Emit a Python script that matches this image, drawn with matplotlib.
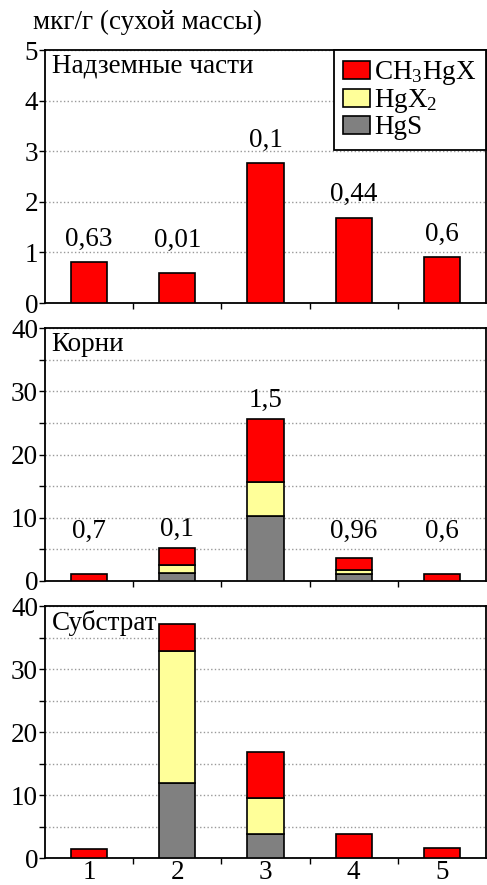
import numpy as np
import matplotlib.pyplot as plt
from matplotlib.patches import Patch

plt.rcParams['font.family'] = ['Liberation Serif', 'DejaVu Serif']
plt.rcParams['mathtext.default'] = 'regular'

# data
sites = [1, 2, 3, 4, 5]
components = ['CH$_3$HgX', 'HgX$_2$', 'HgS']
colors = {'CH$_3$HgX': '#ff0000', 'HgX$_2$': '#ffff99', 'HgS': '#808080'}

# above-ground parts (only methylmercury)
shoot_ch3 = [0.82, 0.60, 2.76, 1.69, 0.90]
shoot_labels = ['0,63', '0,01', '0,1', '0,44', '0,6']

# roots
root_hgs = [0.0, 1.2, 10.3, 1.0, 0.0]
root_hgx2 = [0.0, 1.35, 5.4, 0.75, 0.0]
root_ch3 = [1.0, 2.65, 10.0, 1.9, 1.0]
root_labels = ['0,7', '0,1', '1,5', '0,96', '0,6']

# substrate
sub_hgs = [0.0, 11.9, 3.76, 0.0, 0.0]
sub_hgx2 = [0.0, 21.0, 5.76, 0.0, 0.0]
sub_ch3 = [1.38, 4.2, 7.36, 3.8, 1.53]

FS = 19.5
W = 0.41

fig = plt.figure(figsize=(4.87, 8.85), dpi=100)
left, width = 45 / 487, 441 / 487
ax1 = fig.add_axes([left, 0.6576, width, 0.2859])
ax2 = fig.add_axes([left, 0.3438, width, 0.2852])
ax3 = fig.add_axes([left, 0.0305, width, 0.2847])


def stacked(ax, hgs, hgx2, ch3):
    x = np.array(sites)
    bottom = np.zeros(len(sites))
    for vals, name in [(hgs, 'HgS'), (hgx2, 'HgX$_2$'), (ch3, 'CH$_3$HgX')]:
        v = np.array(vals)
        mask = v > 0
        ax.bar(x[mask], v[mask], W, bottom=bottom[mask], color=colors[name],
               edgecolor='black', linewidth=1.2, zorder=3)
        bottom = bottom + v
    return bottom


def style(ax, ymax, major, minor, name, show_x=False, boxed=False):
    ax.set_xlim(0.5, 5.5)
    ax.set_ylim(0, ymax)
    ax.set_yticks(np.arange(0, ymax + 0.1, major))
    if minor:
        ax.set_yticks(np.arange(minor, ymax, major), minor=True)
    ax.set_xticks([1.5, 2.5, 3.5, 4.5])
    ax.set_xticklabels([])
    ax.set_xticks(sites, minor=True)
    ax.set_xticklabels([str(s) for s in sites] if show_x else [], minor=True)
    ax.tick_params(axis='x', which='minor', length=0, labelsize=FS, pad=1.5)
    ax.tick_params(axis='x', which='major', length=4, width=1, direction='out')
    ax.tick_params(axis='y', which='both', length=4, width=1, direction='out',
                   labelsize=FS, pad=1)
    ax.yaxis.grid(True, which='both', linestyle=':', color='#999999', linewidth=1)
    ax.set_axisbelow(True)
    for s in ax.spines.values():
        s.set_linewidth(1.3)
    kw = dict(transform=ax.transAxes, fontsize=FS, va='top', ha='left', zorder=5)
    if boxed:
        kw['bbox'] = dict(facecolor='white', edgecolor='none', pad=1)
    ax.text(0.015, 0.985, name, **kw)


def value_labels(ax, tops, labels, gap, floor):
    for x, t, lab in zip(sites, tops, labels):
        ax.text(x, max(t + gap, floor), lab, ha='center', va='bottom', fontsize=FS)


# panel 1
ax1.bar(sites, shoot_ch3, W, color=colors['CH$_3$HgX'], edgecolor='black',
        linewidth=1.2, zorder=3)
style(ax1, 5, 1, None, 'Надземные части')
value_labels(ax1, shoot_ch3, shoot_labels, 0.2, 1.0)
handles = [Patch(facecolor=colors[c], edgecolor='black', linewidth=1.2, label=c)
           for c in components]
leg = ax1.legend(handles=handles, loc='upper right', fontsize=FS, frameon=True,
                 fancybox=False, edgecolor='black', framealpha=1, borderaxespad=0,
                 handlelength=1.0, handleheight=0.65, handletextpad=0.15,
                 labelspacing=0.0, borderpad=0.35)
leg.get_frame().set_linewidth(1.3)

# panel 2
tops2 = stacked(ax2, root_hgs, root_hgx2, root_ch3)
style(ax2, 40, 10, 5, 'Корни')
value_labels(ax2, tops2, root_labels, 0.9, 5.9)

# panel 3
stacked(ax3, sub_hgs, sub_hgx2, sub_ch3)
style(ax3, 40, 10, 5, 'Субстрат', show_x=True, boxed=True)

fig.text(33 / 487, 1 - 22 / 885, 'мкг/г (сухой массы)', fontsize=FS,
         va='center', ha='left')

fig.savefig('out.png', dpi=100)
